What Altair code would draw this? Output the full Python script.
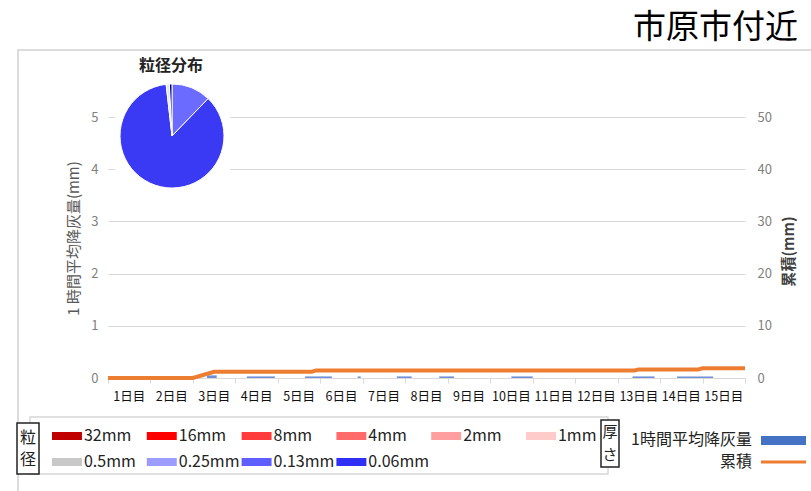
import altair as alt
import pandas as pd

FONT = "Noto Sans CJK JP"

# ---------------- data ----------------
title_text = "市原市付近"
pie_title = "粒径分布"
day_labels = ["1日目", "2日目", "3日目", "4日目", "5日目", "6日目", "7日目", "8日目",
              "9日目", "10日目", "11日目", "12日目", "13日目", "14日目", "15日目"]

# hourly mean ash fall (left axis, mm): start day, end day, value
bar_start = [2.33, 3.27, 4.64, 5.88, 6.80, 7.80, 9.50, 12.35, 13.40]
bar_end = [2.56, 3.93, 5.27, 5.95, 7.15, 8.15, 10.00, 12.87, 14.25]
bar_value = [0.05, 0.03, 0.03, 0.03, 0.03, 0.03, 0.03, 0.03, 0.03]

# cumulative (right axis, mm)
cum_t = [0, 2.0, 2.5, 4.8, 4.9, 12.4, 12.5, 13.9, 14.0, 15.0]
cum_v = [0, 0, 1.2, 1.2, 1.45, 1.45, 1.65, 1.65, 1.85, 1.85]

# grain size legend
size_labels = ["32mm", "16mm", "8mm", "4mm", "2mm", "1mm",
               "0.5mm", "0.25mm", "0.13mm", "0.06mm"]
size_colors = ["#c00000", "#ff0000", "#ff3b3b", "#ff6b6b", "#ff9e9e", "#ffcaca",
               "#c8c8c8", "#9c9cff", "#5f5fff", "#2f2ff5"]

# pie (grain size distribution, %)
pie_labels = ["0.13mm", "0.06mm", "0.5mm", "0.06mm未満"]
pie_share = [12.2, 85.8, 1.0, 0.8]
pie_colors = ["#6b6bff", "#3a3af5", "#e6e6ee", "#000080"]

series_names = ["1時間平均降灰量", "累積"]
series_colors = ["#4472c4", "#ed7d31"]

# ---------------- layout ----------------
OX, OY = 108, 91          # plot-area origin in page pixels
W, H = 637, 287


def px(x):
    return x - OX


def py(y):
    return y - OY


one = alt.Data(values=[{"k": 0}])


def label(text, x, y, size=16, color="#222222", align="center", weight="normal"):
    return alt.Chart(one).mark_text(fontSize=size, color=color, align=align,
                                    baseline="middle", fontWeight=weight).encode(
        x=alt.value(px(x)), y=alt.value(py(y)), text=alt.value(text))


frame = alt.Chart(one).mark_rect(fillOpacity=0, stroke="#dcdcdc", strokeWidth=2).encode(
    x=alt.value(px(18)), x2=alt.value(px(815)), y=alt.value(py(50)), y2=alt.value(py(498)))

bars_df = pd.DataFrame({"start": bar_start, "end": bar_end, "v": bar_value})
bars = alt.Chart(bars_df).mark_rect(color="#6f8fd6").encode(
    x=alt.X("start:Q", scale=alt.Scale(domain=[0, 15], nice=False, zero=False),
            axis=alt.Axis(values=list(range(16)), labels=False, ticks=True, tickColor="#d9d9d9",
                          tickSize=5, domain=True, domainColor="#d9d9d9", grid=False, title=None)),
    x2="end:Q",
    y=alt.Y("v:Q", scale=alt.Scale(domain=[0, 5.5], nice=False),
            axis=alt.Axis(values=[0, 1, 2, 3, 4, 5], grid=True, gridColor="#d9d9d9", ticks=False,
                          domain=False, labelColor="#7f7f7f", labelFontSize=13, labelPadding=10,
                          title="1 時間平均降灰量(mm)", titleColor="#595959", titleFontSize=15,
                          titleFontWeight="normal", titleAngle=270, titleX=-35, titleY=147,
                          titleAlign="center", titleBaseline="middle")),
    y2=alt.datum(0),
)

cum_df = pd.DataFrame({"t": cum_t, "c": cum_v})
line = alt.Chart(cum_df).mark_line(color=series_colors[1], strokeWidth=4).encode(
    x=alt.X("t:Q", scale=alt.Scale(domain=[0, 15], nice=False, zero=False), axis=None),
    y=alt.Y("c:Q", scale=alt.Scale(domain=[0, 55], nice=False),
            axis=alt.Axis(orient="right", values=[0, 10, 20, 30, 40, 50], grid=False, ticks=False,
                          domain=False, labelColor="#7f7f7f", labelFontSize=13, labelPadding=12,
                          title="累積(mm)", titleColor="#404040", titleFontSize=15,
                          titleFontWeight="bold", titleAngle=270, titleX=43, titleY=160,
                          titleAlign="center", titleBaseline="middle")),
)

day_df = pd.DataFrame({"day": day_labels, "pos": [i + 0.5 for i in range(len(day_labels))]})
days = alt.Chart(day_df).mark_text(fontSize=12.5, color="#111111", baseline="middle").encode(
    x=alt.X("pos:Q", scale=alt.Scale(domain=[0, 15], nice=False, zero=False), axis=None),
    y=alt.value(py(397)),
    text="day:N",
)

pie_bg = alt.Chart(one).mark_rect(fill="white").encode(
    x=alt.value(px(115)), x2=alt.value(px(230)), y=alt.value(py(53)), y2=alt.value(py(192)))

pie_df = pd.DataFrame({"size": pie_labels, "share": pie_share, "o": list(range(len(pie_labels)))})
pie = alt.Chart(pie_df).mark_arc(radius=52, stroke="white", strokeWidth=1).encode(
    theta=alt.Theta("share:Q", stack=True),
    order=alt.Order("o:Q"),
    color=alt.Color("size:N", scale=alt.Scale(domain=pie_labels, range=pie_colors), legend=None),
    x=alt.value(px(172)), y=alt.value(py(136)),
)

pie_ttl = label(pie_title, 171, 66, size=16, weight="bold")
title = label(title_text, 798, 28, size=33, color="#000000", align="right")

# ---------------- legend ----------------
leg_border = alt.Chart(one).mark_rect(fillOpacity=0, stroke="#d6d6d6", strokeWidth=1.5).encode(
    x=alt.value(px(30)), x2=alt.value(px(608)), y=alt.value(py(417)), y2=alt.value(py(474)))

box1 = alt.Chart(one).mark_rect(fill="white", stroke="#222222", strokeWidth=1.5).encode(
    x=alt.value(px(17)), x2=alt.value(px(39)), y=alt.value(py(423)), y2=alt.value(py(474)))
box1_a = label("粒", 28, 438, size=16)
box1_b = label("径", 28, 460, size=16)

box2 = alt.Chart(one).mark_rect(fill="white", stroke="#222222", strokeWidth=1.5).encode(
    x=alt.value(px(601)), x2=alt.value(px(619)), y=alt.value(py(420)), y2=alt.value(py(467)))
box2_a = label("厚", 610, 432, size=15)
box2_b = label("さ", 610, 455, size=15)

leg_df = pd.DataFrame({
    "label": size_labels,
    "col": [i % 6 for i in range(len(size_labels))],
    "row": [i // 6 for i in range(len(size_labels))],
})
lx = alt.Scale(domain=[0, 5], range=[px(52), px(526)])
ly = alt.Scale(domain=[0, 1], range=[py(436), py(462)])
leg_base = alt.Chart(leg_df).transform_calculate(c2="datum.col + 0.316")
swatch = leg_base.mark_rule(strokeWidth=8).encode(
    x=alt.X("col:Q", scale=lx, axis=None),
    x2="c2:Q",
    y=alt.Y("row:Q", scale=ly, axis=None),
    color=alt.Color("label:N", scale=alt.Scale(domain=size_labels, range=size_colors), legend=None),
)
swatch_t = leg_base.mark_text(align="left", baseline="middle", dx=2, fontSize=16,
                              color="#222222").encode(
    x=alt.X("c2:Q", scale=lx, axis=None),
    y=alt.Y("row:Q", scale=ly, axis=None),
    text="label:N",
)

s1_t = label(series_names[0], 752, 440, size=16, align="right")
s1_sw = alt.Chart(one).mark_rect(color=series_colors[0]).encode(
    x=alt.value(px(761)), x2=alt.value(px(806)), y=alt.value(py(436)), y2=alt.value(py(445)))
s2_t = label(series_names[1], 752, 462, size=16, align="right")
s2_sw = alt.Chart(one).mark_rule(color=series_colors[1], strokeWidth=3).encode(
    x=alt.value(px(761)), x2=alt.value(px(806)), y=alt.value(py(462)))

chart = alt.layer(
    frame, bars, line, days, pie_bg, pie, pie_ttl, title,
    leg_border, box1, box1_a, box1_b, box2, box2_a, box2_b, swatch, swatch_t,
    s1_t, s1_sw, s2_t, s2_sw,
).resolve_scale(
    x="independent", y="independent", color="independent", theta="independent"
).properties(
    width=W, height=H,
    autosize=alt.AutoSizeParams(type="none"),
    padding={"left": OX, "top": OY, "right": 811 - OX - W, "bottom": 491 - OY - H},
    background="white",
).configure_view(stroke=None).configure_axis(
    labelFont=FONT, titleFont=FONT
).configure_text(font=FONT)

chart.save("out.html", embed_options={"renderer": "svg", "actions": False})
